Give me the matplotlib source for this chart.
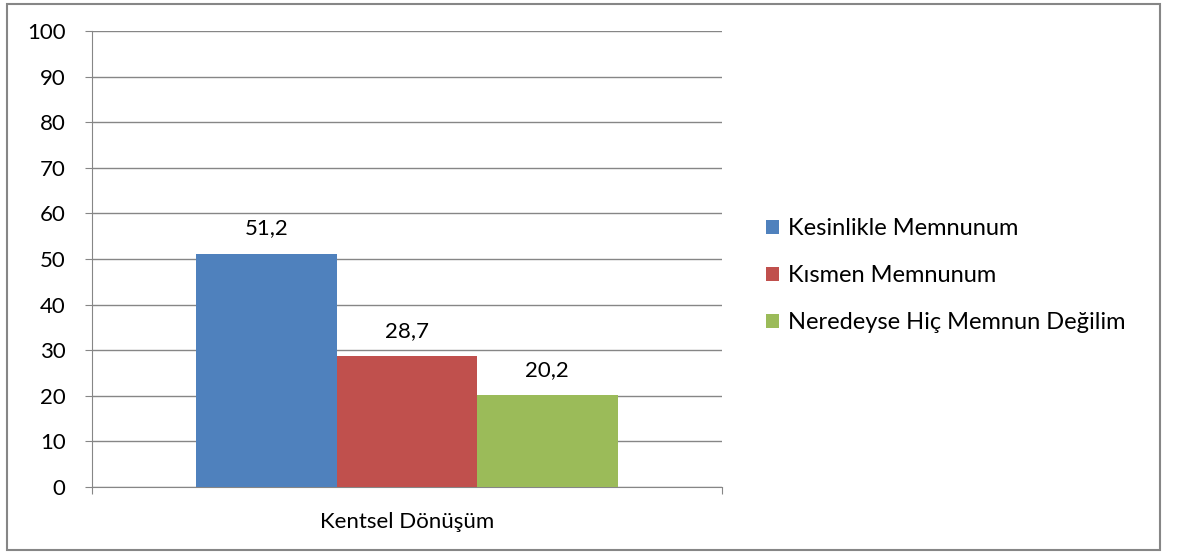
import matplotlib.pyplot as plt
from matplotlib.patches import Patch, Rectangle

# Veriler
kategori = 'Kentsel Dönüşüm'
seriler = ['Kesinlikle Memnunum', 'Kısmen Memnunum', 'Neredeyse Hiç Memnun Değilim']
degerler = [51.2, 28.7, 20.2]
renkler = ['#4F81BD', '#C0504D', '#9BBB59']
y_ticks = [0, 10, 20, 30, 40, 50, 60, 70, 80, 90, 100]

plt.rcParams['font.family'] = ['Lato', 'DejaVu Sans']
grid_color = '#868686'
fs = 16

fig = plt.figure(figsize=(11.77, 5.54), dpi=100)
ax = fig.add_axes([0.0782, 0.1209, 0.5352, 0.8231])

bar_w = 0.2228
for i, (ad, deger, renk) in enumerate(zip(seriler, degerler, renkler)):
    x = (i - 1) * bar_w
    ax.bar(x, deger, width=bar_w, color=renk, label=ad, zorder=3)
    ax.annotate(f'{deger:.1f}'.replace('.', ','), (x, deger), xytext=(0, 11),
                textcoords='offset points', ha='center', va='bottom', fontsize=fs)

ax.set_xlim(-0.5, 0.5)
ax.set_ylim(0, 100)
ax.set_yticks(y_ticks)
ax.tick_params(axis='y', labelsize=fs, length=5, color=grid_color, pad=14)
ax.set_xticks([-0.5, 0.5])
ax.set_xticklabels(['', ''])
ax.set_xticks([0], [kategori], minor=True)
ax.tick_params(axis='x', which='major', length=5, color=grid_color)
ax.tick_params(axis='x', which='minor', length=0, labelsize=fs, pad=18)
ax.grid(axis='y', color=grid_color, linewidth=1, zorder=0)
for s in ['top', 'right']:
    ax.spines[s].set_visible(False)
for s in ['left', 'bottom']:
    ax.spines[s].set_color(grid_color)

handles = [Patch(facecolor=c, label=s) for s, c in zip(seriler, renkler)]
fig.legend(handles=handles, loc='center left', bbox_to_anchor=(0.633, 0.502),
           frameon=False, fontsize=17, handlelength=0.55, handleheight=0.55,
           handletextpad=0.35, labelspacing=1.1)

# Çerçeve
fig.patches.append(Rectangle((7 / 1177, 4 / 554), 1153 / 1177, 546 / 554,
                             transform=fig.transFigure, fill=False,
                             edgecolor=grid_color, linewidth=1.5))

plt.savefig('out.png', dpi=100)
